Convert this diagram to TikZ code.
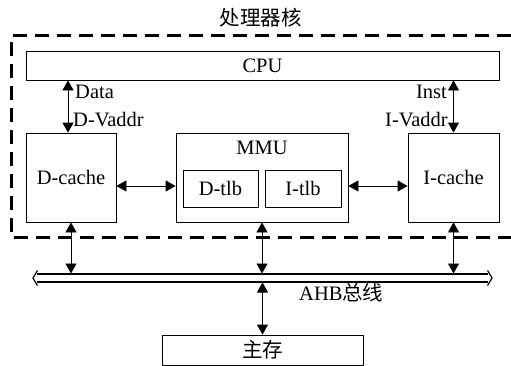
\documentclass[tikz,border=0pt]{standalone}
\usepackage{fontspec}
\setmainfont{Liberation Serif}
\newfontfamily\cjk{Noto Sans CJK SC}
\usetikzlibrary{arrows.meta}

\begin{document}
\begin{tikzpicture}[x=1pt,y=-1pt,
  txt/.style={font=\fontsize{20.5}{23}\selectfont},
  box/.style={draw, line width=0.8pt, inner sep=0pt, txt},
  lbl/.style={inner sep=0pt, txt},
  link/.style={line width=0.8pt, {Triangle[length=10pt,width=11pt]}-{Triangle[length=10pt,width=11pt]}},
  busline/.style={line width=1.2pt},
  core/.style={line width=3pt, dash pattern=on 14pt off 8pt},
]
\useasboundingbox (0,0) rectangle (511,365);

% processor core outline
\node[lbl] (title) at (260.5,18) {\cjk 处理器核};
\draw[core] (511,35) -- (11.5,35) -- (11.5,237) -- (511,237);

% blocks
\node[box, minimum width=473, minimum height=29] (cpu) at (262.5,65.5) {CPU};
\node[box, minimum width=90, minimum height=89] (dc) at (71,177.5) {D-cache};
\node[box, minimum width=172, minimum height=89] (mmu) at (262,177.5) {};
\node[lbl] (mmut) at (262,148) {MMU};
\node[box, minimum width=75, minimum height=37] (dtlb) at (220.5,188.5) {D-tlb};
\node[box, minimum width=76, minimum height=37] (itlb) at (303,188.5) {I-tlb};
\node[box, minimum width=91, minimum height=89] (ic) at (453.5,177.5) {I-cache};
\node[box, minimum width=201, minimum height=30] (mem) at (262.5,350) {\cjk 主存};

% helper coordinates
\coordinate (dx) at (68,0);
\coordinate (hy) at (0,186);
\coordinate (bustop) at (0,273.5);
\coordinate (busbot) at (0,282.5);
\coordinate (busL) at (33,278);
\coordinate (busR) at (492,278);

% CPU <-> caches
\draw[link] (cpu.south -| dx) -- (dc.north -| dx);
\draw[link] (cpu.south -| ic) -- (ic.north);
\node[lbl, anchor=west] (data) at (75,92) {Data};
\node[lbl, anchor=west] (dva) at (73,120) {D-Vaddr};
\node[lbl, anchor=east] (inst) at (447,92) {Inst};
\node[lbl, anchor=east] (iva) at (448,120) {I-Vaddr};

% caches <-> MMU
\draw[link] (dc.east |- hy) -- (mmu.west |- hy);
\draw[link] (mmu.east |- hy) -- (ic.west |- hy);

% AHB bus
\draw[busline] ([shift={(4,-4)}]busL) -- ([shift={(-4,-4)}]busR);
\draw[busline] ([shift={(4,4)}]busL) -- ([shift={(-4,4)}]busR);
\draw[busline, line join=round] ([shift={(4.5,-7.5)}]busL) -- (busL) -- ([shift={(4.5,7.5)}]busL);
\draw[busline, line join=round] ([shift={(-4.5,-7.5)}]busR) -- (busR) -- ([shift={(-4.5,7.5)}]busR);
\node[lbl, anchor=west] (ahb) at (299,293) {AHB\cjk 总线};

% blocks <-> bus
\draw[link] (dc.south) -- (dc.south |- bustop);
\draw[link] (mmu.south) -- (mmu.south |- bustop);
\draw[link] (ic.south) -- (ic.south |- bustop);
\draw[link] (mem.north |- busbot) -- (mem.north);
\end{tikzpicture}
\end{document}
